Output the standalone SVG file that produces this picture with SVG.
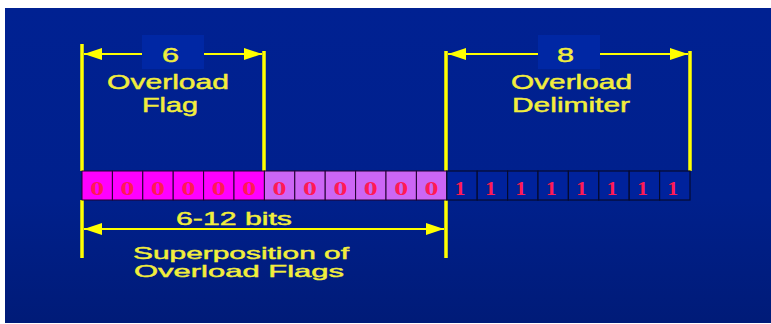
<svg xmlns="http://www.w3.org/2000/svg" width="771" height="324" viewBox="0 0 771 324">
  <defs>
    <linearGradient id="bg" x1="0" y1="0" x2="0" y2="1">
      <stop offset="0" stop-color="#002192"/>
      <stop offset="0.6" stop-color="#00208c"/>
      <stop offset="1" stop-color="#001b78"/>
    </linearGradient>
    <marker id="ah" viewBox="0 0 18 12" refX="18" refY="6" markerWidth="18" markerHeight="12" markerUnits="userSpaceOnUse" orient="auto-start-reverse">
      <path d="M0,0 L18,6 L0,12 Z" fill="#ffff00"/>
    </marker>
    <style>
      .lbl { font-family: "Liberation Sans", Arial, sans-serif; fill: #f2ee3c; stroke: #f2ee3c; stroke-width: 0.45; }
      .dig { font-family: "Liberation Serif", "Times New Roman", serif; font-size: 18px; font-weight: bold; fill: #ff1a55; text-anchor: middle; }
      .vl { stroke: #ffff00; stroke-width: 3.5; fill: none; }
      .dim { stroke: #ffff00; stroke-width: 2; fill: none; marker-start: url(#ah); marker-end: url(#ah); }
      .c0 { fill: #ff00ff; stroke: #200030; stroke-width: 1; }
      .c1 { fill: #cc66f5; stroke: #200030; stroke-width: 1; }
      .c2 { fill: #00229c; stroke: #050a30; stroke-width: 1.2; }
      .nbox { fill: #0027a4; }
    </style>
  </defs>
  <rect x="5" y="8" width="766" height="315" fill="url(#bg)"/>

  <g id="connectors">
    <line class="vl" x1="82" y1="44" x2="82" y2="171"/>
    <line class="vl" x1="264" y1="51" x2="264" y2="171"/>
    <line class="vl" x1="446" y1="51" x2="446" y2="171"/>
    <line class="vl" x1="690" y1="51" x2="690" y2="171"/>
    <line class="vl" x1="82" y1="200" x2="82" y2="258"/>
    <line class="vl" x1="446" y1="200" x2="446" y2="258"/>
    <line class="dim" x1="84" y1="54" x2="142" y2="54" style="marker-end:none"/>
    <line class="dim" x1="204" y1="54" x2="262" y2="54" style="marker-start:none"/>
    <line class="dim" x1="448" y1="54" x2="538" y2="54" style="marker-end:none"/>
    <line class="dim" x1="600" y1="54" x2="688" y2="54" style="marker-start:none"/>
    <line class="dim" x1="84" y1="229" x2="444" y2="229"/>
  </g>

  <g id="overload-flag-label">
    <rect class="nbox" x="142" y="35" width="62" height="34"/>
    <text class="lbl" x="162" y="62" font-size="20" textLength="17" lengthAdjust="spacingAndGlyphs">6</text>
    <text class="lbl" x="107" y="89" font-size="20" textLength="122" lengthAdjust="spacingAndGlyphs">Overload</text>
    <text class="lbl" x="142" y="112" font-size="20" textLength="56" lengthAdjust="spacingAndGlyphs">Flag</text>
  </g>

  <g id="overload-delimiter-label">
    <rect class="nbox" x="538" y="35" width="62" height="34"/>
    <text class="lbl" x="557" y="62" font-size="20" textLength="17" lengthAdjust="spacingAndGlyphs">8</text>
    <text class="lbl" x="511" y="89" font-size="20" textLength="121" lengthAdjust="spacingAndGlyphs">Overload</text>
    <text class="lbl" x="512" y="112" font-size="20" textLength="118" lengthAdjust="spacingAndGlyphs">Delimiter</text>
  </g>

  <g id="superposition-label">
    <text class="lbl" x="176" y="225" font-size="18" textLength="116" lengthAdjust="spacingAndGlyphs">6-12 bits</text>
    <text class="lbl" x="133" y="259" font-size="17" textLength="216" lengthAdjust="spacingAndGlyphs">Superposition of</text>
    <text class="lbl" x="134" y="277" font-size="17" textLength="210" lengthAdjust="spacingAndGlyphs">Overload Flags</text>
  </g>

  <g id="bit-row">
    <g id="flag-bits">
      <rect class="c0" x="82" y="171" width="30.4" height="29"/>
      <rect class="c0" x="112.4" y="171" width="30.4" height="29"/>
      <rect class="c0" x="142.8" y="171" width="30.4" height="29"/>
      <rect class="c0" x="173.2" y="171" width="30.4" height="29"/>
      <rect class="c0" x="203.6" y="171" width="30.4" height="29"/>
      <rect class="c0" x="234" y="171" width="30.4" height="29"/>
      <text class="dig" x="97.2" y="195" textLength="14" lengthAdjust="spacingAndGlyphs">0</text>
      <text class="dig" x="127.6" y="195" textLength="14" lengthAdjust="spacingAndGlyphs">0</text>
      <text class="dig" x="158" y="195" textLength="14" lengthAdjust="spacingAndGlyphs">0</text>
      <text class="dig" x="188.4" y="195" textLength="14" lengthAdjust="spacingAndGlyphs">0</text>
      <text class="dig" x="218.8" y="195" textLength="14" lengthAdjust="spacingAndGlyphs">0</text>
      <text class="dig" x="249.2" y="195" textLength="14" lengthAdjust="spacingAndGlyphs">0</text>
    </g>
    <g id="superposed-bits">
      <rect class="c1" x="264.4" y="171" width="30.4" height="29"/>
      <rect class="c1" x="294.8" y="171" width="30.4" height="29"/>
      <rect class="c1" x="325.2" y="171" width="30.4" height="29"/>
      <rect class="c1" x="355.6" y="171" width="30.4" height="29"/>
      <rect class="c1" x="386" y="171" width="30.4" height="29"/>
      <rect class="c1" x="416.4" y="171" width="30.4" height="29"/>
      <text class="dig" x="279.6" y="195" textLength="14" lengthAdjust="spacingAndGlyphs">0</text>
      <text class="dig" x="310" y="195" textLength="14" lengthAdjust="spacingAndGlyphs">0</text>
      <text class="dig" x="340.4" y="195" textLength="14" lengthAdjust="spacingAndGlyphs">0</text>
      <text class="dig" x="370.8" y="195" textLength="14" lengthAdjust="spacingAndGlyphs">0</text>
      <text class="dig" x="401.2" y="195" textLength="14" lengthAdjust="spacingAndGlyphs">0</text>
      <text class="dig" x="431.6" y="195" textLength="14" lengthAdjust="spacingAndGlyphs">0</text>
    </g>
    <g id="delimiter-bits">
      <rect class="c2" x="446.8" y="171" width="30.4" height="29"/>
      <rect class="c2" x="477.2" y="171" width="30.4" height="29"/>
      <rect class="c2" x="507.6" y="171" width="30.4" height="29"/>
      <rect class="c2" x="538" y="171" width="30.4" height="29"/>
      <rect class="c2" x="568.4" y="171" width="30.4" height="29"/>
      <rect class="c2" x="598.8" y="171" width="30.4" height="29"/>
      <rect class="c2" x="629.2" y="171" width="30.4" height="29"/>
      <rect class="c2" x="659.6" y="171" width="30.4" height="29"/>
      <text class="dig" x="460" y="195" textLength="11" lengthAdjust="spacingAndGlyphs">1</text>
      <text class="dig" x="490.4" y="195" textLength="11" lengthAdjust="spacingAndGlyphs">1</text>
      <text class="dig" x="520.8" y="195" textLength="11" lengthAdjust="spacingAndGlyphs">1</text>
      <text class="dig" x="551.2" y="195" textLength="11" lengthAdjust="spacingAndGlyphs">1</text>
      <text class="dig" x="581.6" y="195" textLength="11" lengthAdjust="spacingAndGlyphs">1</text>
      <text class="dig" x="612" y="195" textLength="11" lengthAdjust="spacingAndGlyphs">1</text>
      <text class="dig" x="642.4" y="195" textLength="11" lengthAdjust="spacingAndGlyphs">1</text>
      <text class="dig" x="672.8" y="195" textLength="11" lengthAdjust="spacingAndGlyphs">1</text>
    </g>
  </g>
</svg>
